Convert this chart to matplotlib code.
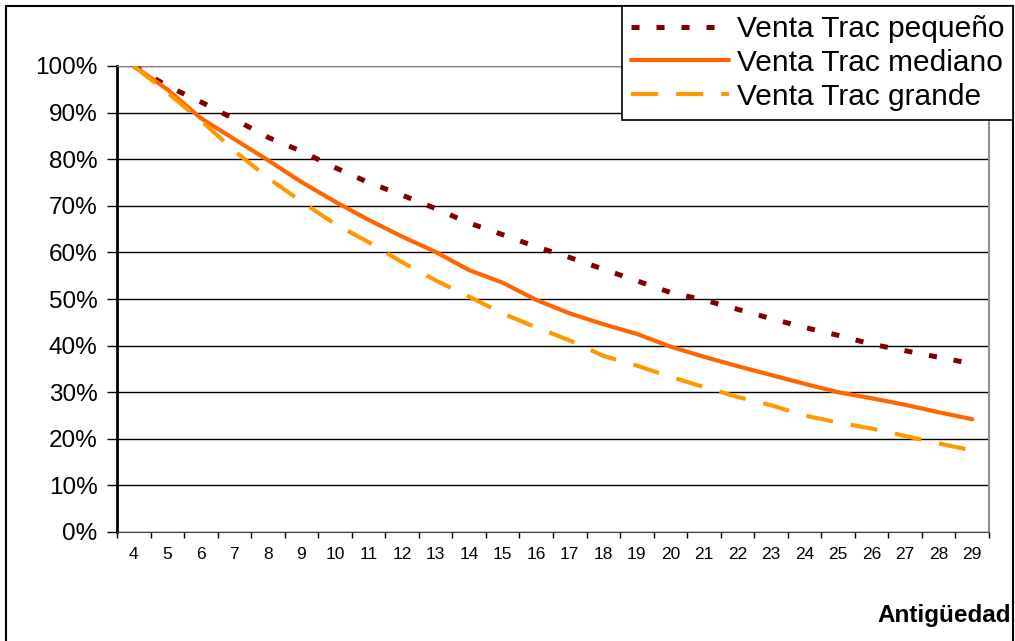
import numpy as np
import matplotlib.pyplot as plt
from matplotlib.patches import Rectangle

plt.rcParams['font.family'] = ['Liberation Sans', 'DejaVu Sans']
plt.rcParams['lines.scale_dashes'] = False

edades = list(range(4, 30))
pequeno = [100, 95.7, 92.3, 88.6, 84.7, 81.7, 78.2, 75.0, 72.3, 69.4, 66.3, 63.8, 61.2,
           58.9, 56.4, 53.9, 51.4, 49.8, 47.8, 45.8, 43.9, 42.2, 40.3, 38.9, 37.5, 36.1]
mediano = [100, 95.0, 88.8, 84.3, 79.8, 75.1, 70.9, 67.0, 63.4, 60.1, 56.2, 53.5, 49.8,
           46.9, 44.6, 42.5, 39.8, 37.6, 35.6, 33.7, 31.8, 30.0, 28.7, 27.3, 25.7, 24.2]
grande = [100, 94.3, 88.3, 81.8, 76.0, 70.9, 66.1, 62.2, 57.9, 54.0, 50.5, 46.9, 43.9,
          41.1, 37.8, 35.7, 33.3, 31.1, 29.0, 27.2, 25.0, 23.5, 22.2, 20.6, 19.0, 17.5]
nombres = ["Venta Trac pequeño", "Venta Trac mediano", "Venta Trac grande"]

W, H = 1015, 641
fig = plt.figure(figsize=(W / 100, H / 100), dpi=100)
ax = fig.add_axes([117 / W, 1 - 532 / H, (989 - 117) / W, (532 - 66) / H])

x = np.arange(len(edades))
l1, = ax.plot(x, pequeno, color='#800000', lw=3.6, dashes=(5.8, 12.2),
              dash_capstyle='butt', zorder=3)
l2, = ax.plot(x, mediano, color='#FF6600', lw=3.0, solid_capstyle='round', zorder=3)
l3, = ax.plot(x, grande, color='#FF9900', lw=3.0, dashes=(19.5, 13),
              dash_capstyle='butt', zorder=3)

ax.set_xlim(-0.5, len(edades) - 0.5)
ax.set_ylim(0, 100)

# category axis: marks on the boundaries, labels in the middle
ax.set_xticks(np.arange(len(edades) + 1) - 0.5)
ax.set_xticklabels([])
ax.set_xticks(x, minor=True)
ax.set_xticklabels([str(e) for e in edades], minor=True, fontsize=12.5)
ax.tick_params(axis='x', which='major', direction='out', length=4, width=1, color='black')
ax.tick_params(axis='x', which='minor', length=0, pad=11)

ax.set_yticks(np.arange(0, 101, 10))
ax.set_yticklabels([f"{v}%" for v in range(0, 101, 10)], fontsize=17.5)
ax.tick_params(axis='y', direction='out', length=7, width=1, color='black', pad=7)

ax.yaxis.grid(True, color='black', lw=1)
ax.set_axisbelow(True)
ax.spines['left'].set_linewidth(2)
ax.spines['left'].set_color('black')
ax.spines['bottom'].set_color('#404040')
ax.spines['top'].set_color('#808080')
ax.spines['right'].set_color('#909090')
ax.spines['right'].set_linewidth(1.5)

leg = fig.legend([l1, l2, l3], nombres, loc='upper right',
                 bbox_to_anchor=(1013 / W, 1 - 6 / H), borderaxespad=0,
                 fontsize=21.5, handlelength=3.3, handletextpad=0.25,
                 labelspacing=0.2, borderpad=0.3,
                 fancybox=False, framealpha=1, edgecolor='black')
leg.get_frame().set_linewidth(1.2)

fig.text(1011 / W, 1 - 622 / H, "Antigüedad", ha='right', va='baseline',
         fontsize=17.5, fontweight='bold')

# outer chart border
fig.patches.append(Rectangle((6 / W, -0.1), (1013 - 6) / W, 1.1 - 6 / H,
                             transform=fig.transFigure, fill=False,
                             edgecolor='black', lw=1.5, zorder=0))

fig.savefig("out.png", dpi=100)
